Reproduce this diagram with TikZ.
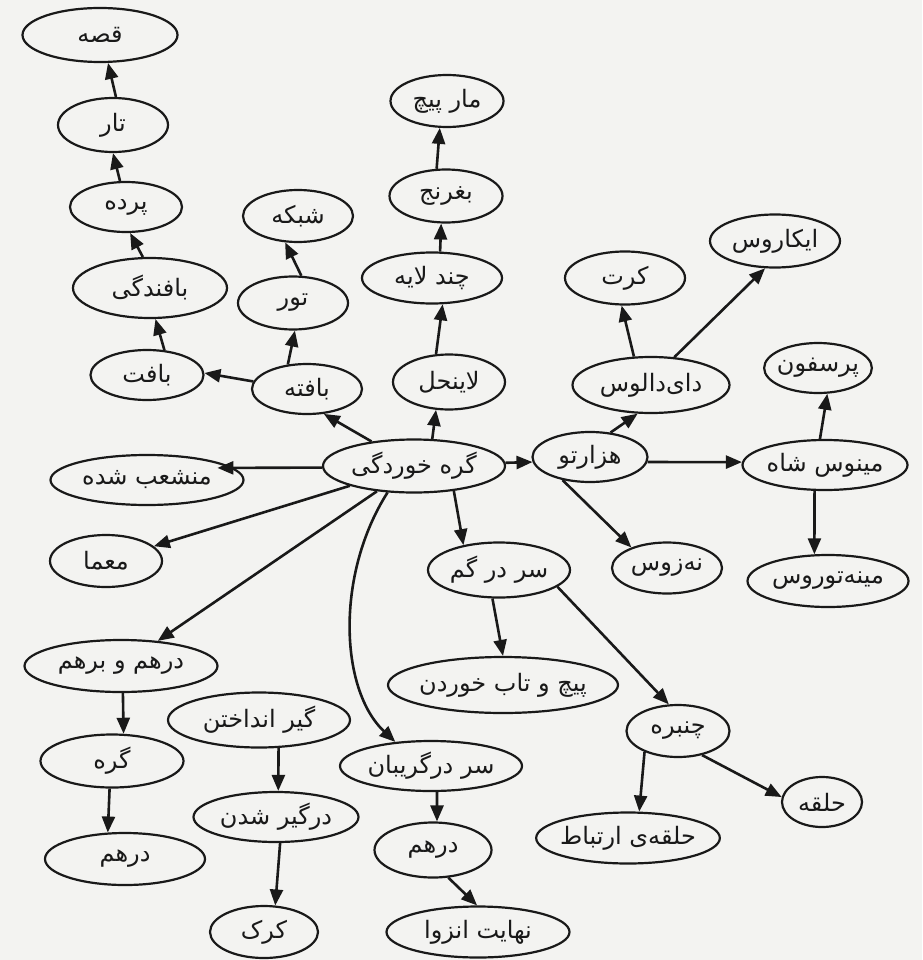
\documentclass[tikz,border=0pt]{standalone}
\usepackage{fontspec}
\usetikzlibrary{shapes.geometric,arrows.meta}
\TeXXeTstate=1
\newfontfamily\farsi[Script=Arabic]{DejaVu Sans}
\newcommand\fa[1]{\farsi\beginR #1\endR}
\definecolor{paper}{RGB}{243,243,241}
\definecolor{ink}{RGB}{25,25,25}
\begin{document}
\begin{tikzpicture}[x=1pt,y=-1pt,
  ov/.style={draw=ink, ellipse, line width=2.2pt, inner sep=-3pt, font=\fontsize{24}{26}\selectfont, text=ink},
  ar/.style={draw=ink, line width=2.6pt, -{Triangle[length=16pt,width=13pt]}}]
\fill[paper] (0,0) rectangle (922,960);
\useasboundingbox (0,0) rectangle (922,960);
% left column
\node[ov, minimum width=155pt, minimum height=54pt] (qesse) at (100,35) {\fa{قصه}};
\node[ov, minimum width=110pt, minimum height=54pt] (tar) at (113,125) {\fa{تار}};
\node[ov, minimum width=112pt, minimum height=50pt] (parde) at (126,207) {\fa{پرده}};
\node[ov, minimum width=154pt, minimum height=60pt] (bafandegi) at (150,288) {\fa{بافندگی}};
\node[ov, minimum width=113pt, minimum height=50pt] (baft) at (147,375) {\fa{بافت}};
\node[ov, minimum width=110pt, minimum height=50pt] (bafte) at (307,389) {\fa{بافته}};
\node[ov, minimum width=110pt, minimum height=53pt] (tur) at (293,303) {\fa{تور}};
\node[ov, minimum width=110pt, minimum height=52pt] (shabake) at (298,216) {\fa{شبکه}};
% middle column
\node[ov, minimum width=113pt, minimum height=52pt] (marpich) at (447,101) {\fa{مار پیچ}};
\node[ov, minimum width=113pt, minimum height=53pt] (boghranj) at (446,196) {\fa{بغرنج}};
\node[ov, minimum width=140pt, minimum height=51pt] (chandlaye) at (432,278) {\fa{چند لایه}};
\node[ov, minimum width=112pt, minimum height=55pt] (laynahal) at (449,382) {\fa{لاینحل}};
\node[ov, minimum width=182pt, minimum height=53pt] (gereh) at (414,466) {\fa{گره خوردگی}};
\node[ov, minimum width=193pt, minimum height=50pt] (monshaeb) at (147,480) {\fa{منشعب شده}};
\node[ov, minimum width=112pt, minimum height=52pt] (moamma) at (106,561) {\fa{معما}};
\node[ov, minimum width=193pt, minimum height=52pt] (darhambarham) at (121,666) {\fa{درهم و برهم}};
\node[ov, minimum width=143pt, minimum height=53pt] (gere) at (112,761) {\fa{گره}};
\node[ov, minimum width=160pt, minimum height=52pt] (darhamA) at (125,859) {\fa{درهم}};
\node[ov, minimum width=182pt, minimum height=55pt] (giranda) at (259,720) {\fa{گیر انداختن}};
\node[ov, minimum width=165pt, minimum height=50pt] (dargir) at (276,817) {\fa{درگیر شدن}};
\node[ov, minimum width=108pt, minimum height=52pt] (kork) at (264,932) {\fa{کرک}};
\node[ov, minimum width=182pt, minimum height=50pt] (sargariban) at (431,766) {\fa{سر درگریبان}};
\node[ov, minimum width=117pt, minimum height=55pt] (darhamB) at (433,850) {\fa{درهم}};
\node[ov, minimum width=183pt, minimum height=51pt] (nahayat) at (478,932) {\fa{نهایت انزوا}};
\node[ov, minimum width=230pt, minimum height=56pt] (pichotab) at (503,685) {\fa{پیچ و تاب خوردن}};
\node[ov, minimum width=142pt, minimum height=55pt] (sardargom) at (499,570) {\fa{سر در گم}};
\node[ov, minimum width=103pt, minimum height=52pt] (chanbare) at (678,731) {\fa{چنبره}};
\node[ov, minimum width=80pt, minimum height=50pt] (halghe) at (822,802) {\fa{حلقه}};
\node[ov, minimum width=165pt, minimum height=51pt] (ertebat) at (628,838) {\fa{حلقه‌ی ارتباط}};
% right part
\node[ov, minimum width=115pt, minimum height=50pt] (hezartu) at (590,457) {\fa{هزارتو}};
\node[ov, minimum width=110pt, minimum height=51pt] (nezus) at (667,568) {\fa{نه‌زوس}};
\node[ov, minimum width=165pt, minimum height=50pt] (minos) at (825,465) {\fa{مینوس شاه}};
\node[ov, minimum width=161pt, minimum height=52pt] (minetor) at (828,581) {\fa{مینه‌توروس}};
\node[ov, minimum width=95pt, minimum height=50pt] (persefon) at (818,368) {\fa{پرسفون}};
\node[ov, minimum width=157pt, minimum height=56pt] (daidalus) at (651,385) {\fa{دای‌دالوس}};
\node[ov, minimum width=120pt, minimum height=53pt] (kert) at (625,278) {\fa{کرت}};
\node[ov, minimum width=130pt, minimum height=53pt] (ikarus) at (775,241) {\fa{ایکاروس}};
% connectors
\draw[ar] (tar.84) -- (qesse.286);
\draw[ar] (parde.103) -- (tar.270);
\draw[ar] (bafandegi.103) -- (parde.279);
\draw[ar] (baft.55) -- (bafandegi.280);
\draw[ar] (bafte.172) -- (baft.2);
\draw[ar] (bafte.128) -- (tur.274);
\draw[ar] (tur.73) -- (shabake.244);
\draw[ar] (gereh.150) -- (bafte.304);
\draw[ar] (gereh.56) -- (laynahal.245);
\draw[ar] (laynahal.115) -- (chandlaye.292);
\draw[ar] (chandlaye.73) -- (boghranj.260);
\draw[ar] (boghranj.109) -- (marpich.255);
\draw[ar] (gereh.2) -- (hezartu.185);
\draw[ar] (hezartu.50) -- (daidalus.245);
\draw[ar] (daidalus.121) -- (kert.263);
\draw[ar] (daidalus.50) -- (ikarus.250);
\draw[ar] (hezartu.355) -- (minos.178);
\draw[ar] (minos.101) -- (persefon.290);
\draw[ar] (minos.248) -- (minetor.117);
\draw[ar] (hezartu.220) -- (nezus.150);
\draw[ar, shorten >=-16pt] (gereh.181) -- (monshaeb.8);
\draw[ar] (gereh) -- (moamma);
\draw[ar] (gereh) -- (darhambarham);
\draw[ar] (gereh.225) .. controls (335,575) and (340,690) .. (sargariban.146);
\draw[ar] (gereh.328) -- (sardargom.145);
\draw[ar] (sardargom.257) -- (pichotab.90);
\draw[ar] (sardargom.344) -- (chanbare.109);
\draw[ar] (chanbare.212) -- (ertebat.67);
\draw[ar] (chanbare.315) -- (halghe.173);
\draw[ar] (darhambarham.274) -- (gere.67);
\draw[ar] (gere.265) -- (darhamA.123);
\draw[ar] (giranda.305) -- (dargir.85);
\draw[ar] (dargir.279) -- (kork.67);
\draw[ar] (sargariban.283) -- (darhamB.82);
\draw[ar] (darhamB.299) -- (nahayat.92);
\end{tikzpicture}
\end{document}
